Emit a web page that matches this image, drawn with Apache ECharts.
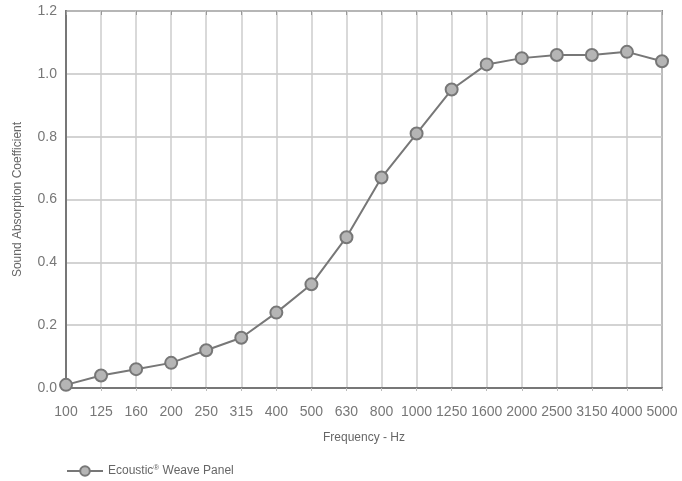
<!DOCTYPE html>
<html>
<head>
<meta charset="utf-8">
<script src="https://cdn.jsdelivr.net/npm/echarts@6/dist/echarts.min.js"></script>
<style>html,body{margin:0;padding:0;background:#fff}#c{width:682px;height:481px}</style>
</head>
<body>
<div id="c"></div>
<script>
const categories = ['100','125','160','200','250','315','400','500','630','800','1000','1250','1600','2000','2500','3150','4000','5000'];
const weavePanel = [0.01,0.04,0.06,0.08,0.12,0.16,0.24,0.33,0.48,0.67,0.81,0.95,1.03,1.05,1.06,1.06,1.07,1.04];
const yTicks = {min:0, max:1.2, interval:0.2};
const seriesName = 'Ecoustic® Weave Panel';

const font = '"Liberation Sans", Arial, sans-serif';
const chart = echarts.init(document.getElementById('c'));
chart.setOption({
  animation:false,
  grid:{left:66, right:20, top:11, bottom:93, show:true, borderColor:'#8a8a8a', borderWidth:2, backgroundColor:'transparent'},
  legend:{
    left:61, top:459, itemWidth:36, itemHeight:12, itemGap:8,
    formatter: function(n){ return n.replace('®','{sup|®}'); },
    textStyle:{fontFamily:font, fontSize:12, color:'#666', rich:{sup:{fontFamily:font, fontSize:8, verticalAlign:'top', padding:[0,0,6,0], color:'#666'}}}
  },
  xAxis:[{
    type:'category', data:categories, boundaryGap:false,
    name:'Frequency - Hz', nameLocation:'middle', nameGap:44,
    nameTextStyle:{fontFamily:font, fontSize:12, color:'#666'},
    axisLine:{lineStyle:{color:'#777', width:2}},
    axisTick:{show:true, length:3, lineStyle:{color:'#bbb'}},
    axisLabel:{fontFamily:font, fontSize:14, color:'#777', margin:17, interval:0},
    splitLine:{show:true, lineStyle:{color:'#cccccc', width:1.5}}
  },{
    type:'category', data:categories, boundaryGap:false, position:'top',
    axisLine:{show:false},
    axisTick:{show:true, inside:true, length:4, lineStyle:{color:'#999'}},
    axisLabel:{show:false}, splitLine:{show:false}
  }],
  yAxis:{
    type:'value', min:yTicks.min, max:yTicks.max, interval:yTicks.interval,
    name:'Sound Absorption Coefficient', nameLocation:'middle', nameGap:42,
    nameTextStyle:{fontFamily:font, fontSize:12, color:'#666'},
    axisLine:{show:true, lineStyle:{color:'#777', width:2}},
    axisTick:{show:false},
    axisLabel:{fontFamily:font, fontSize:14, color:'#777', margin:9, formatter:v=>v.toFixed(1)},
    splitLine:{show:true, lineStyle:{color:'#c4c4c4', width:1.5}}
  },
  series:[{
    name:seriesName, type:'line', data:weavePanel, xAxisIndex:0,
    symbol:'circle', symbolSize:12,
    lineStyle:{color:'#777', width:2},
    itemStyle:{color:'#b5b5b5', borderColor:'#777', borderWidth:2}
  }]
});
</script>
</body>
</html>
